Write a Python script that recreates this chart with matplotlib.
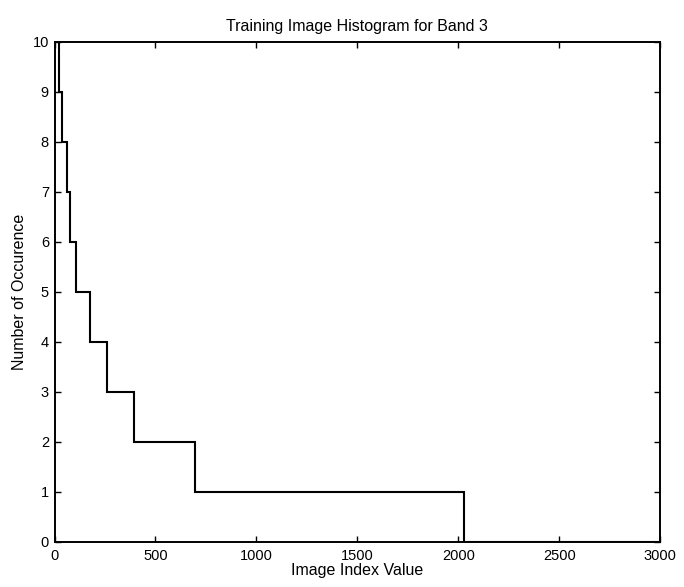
import matplotlib
matplotlib.use("Agg")
import matplotlib.pyplot as plt

# Step boundaries (image index values) and the count held on each interval
step_edges = [0, 20, 37, 62, 78, 108, 174, 260, 396, 697, 2030, 3000]
counts = [11, 9, 8, 7, 6, 5, 4, 3, 2, 1, 0]

x_ticks = [0, 500, 1000, 1500, 2000, 2500, 3000]
y_ticks = list(range(0, 11))

title = "Training Image Histogram for Band 3"
xlabel = "Image Index Value"
ylabel = "Number of Occurence"

plt.rcParams['font.family'] = ['Liberation Sans', 'DejaVu Sans']

fig = plt.figure(figsize=(6.84, 5.87), dpi=100)
ax = fig.add_axes([0.0797, 0.0767, 0.8853, 0.8518])

ax.stairs(counts, step_edges, baseline=None, color='black', linewidth=1.5)

ax.set_xlim(0, 3000)
ax.set_ylim(0, 10)
ax.set_xticks(x_ticks)
ax.set_yticks(y_ticks)
ax.tick_params(axis='both', direction='in', length=4, width=1, top=True, right=True,
               labelsize=10.5, colors='black')
ax.tick_params(axis='x', pad=5)
ax.tick_params(axis='y', pad=4)
for s in ax.spines.values():
    s.set_linewidth(1.4)
    s.set_color('black')

ax.set_title(title, fontsize=11.5, pad=8)
ax.set_xlabel(xlabel, fontsize=11.5, labelpad=0)
ax.set_ylabel(ylabel, fontsize=11.5, labelpad=4)

fig.savefig("out.png", dpi=100)
